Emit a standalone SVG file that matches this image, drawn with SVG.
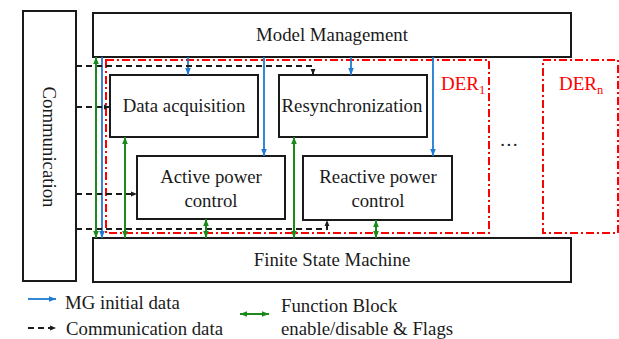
<svg xmlns="http://www.w3.org/2000/svg" width="619" height="339" viewBox="0 0 619 339">
  <style>
    .box { fill: #ffffff; stroke: #1a1a1a; stroke-width: 2; }
    text { font-family: 'Liberation Serif', 'Times New Roman', Times, serif; }
    .lbl { font-size: 18.8px; fill: #1a1a1a; text-anchor: middle; }
    .leg { font-size: 18.8px; fill: #1a1a1a; }
    .der { fill: none; stroke: #ff0000; stroke-width: 2; stroke-dasharray: 8 3 2 3; }
    .derlbl { font-size: 19px; fill: #ff0000; }
    .blue { stroke: #1f7bd1; stroke-width: 1.8; fill: none; marker-end: url(#ah-blue); }
    .green { stroke: #1a8a1a; stroke-width: 2; fill: none; marker-start: url(#ah-green); marker-end: url(#ah-green); }
    .comm { stroke: #1a1a1a; stroke-width: 2; fill: none; stroke-dasharray: 6 4; marker-end: url(#ah-black); }
  </style>
  <defs>
    <marker id="ah-blue" viewBox="0 0 10 10" refX="10" refY="5" markerUnits="userSpaceOnUse" markerWidth="7" markerHeight="7" orient="auto-start-reverse">
      <path d="M0,1 L10,5 L0,9 z" fill="#1f7bd1"/>
    </marker>
    <marker id="ah-green" viewBox="0 0 10 10" refX="10" refY="5" markerUnits="userSpaceOnUse" markerWidth="7" markerHeight="7" orient="auto-start-reverse">
      <path d="M0,1 L10,5 L0,9 z" fill="#1a8a1a"/>
    </marker>
    <marker id="ah-black" viewBox="0 0 10 10" refX="10" refY="5" markerUnits="userSpaceOnUse" markerWidth="6" markerHeight="6" orient="auto-start-reverse">
      <path d="M0,1 L10,5 L0,9 z" fill="#1a1a1a"/>
    </marker>
  </defs>

  <!-- DER containers -->
  <g id="der1">
    <rect class="der" x="106" y="60" width="383" height="173"/>
    <text class="derlbl" x="441" y="90">DER<tspan font-size="12.5" dy="4">1</tspan></text>
  </g>
  <g id="dern">
    <rect class="der" x="543" y="60" width="75" height="173"/>
    <text class="derlbl" x="559" y="90">DER<tspan font-size="12.5" dy="4">n</tspan></text>
  </g>
  <text class="lbl" x="509" y="146">…</text>

  <!-- Blocks -->
  <g id="communication">
    <rect class="box" x="23" y="11" width="53" height="270"/>
    <text class="lbl" transform="translate(43,147) rotate(90)" x="0" y="0">Communication</text>
  </g>
  <g id="model-management">
    <rect class="box" x="93" y="13" width="478" height="44"/>
    <text class="lbl" x="332" y="41">Model Management</text>
  </g>
  <g id="fsm">
    <rect class="box" x="93" y="238" width="478" height="44"/>
    <text class="lbl" x="332" y="266">Finite State Machine</text>
  </g>
  <g id="data-acquisition">
    <rect class="box" x="110" y="75" width="148" height="62"/>
    <text class="lbl" x="184" y="112">Data acquisition</text>
  </g>
  <g id="resynchronization">
    <rect class="box" x="279" y="75" width="148" height="62"/>
    <text class="lbl" x="352" y="112">Resynchronization</text>
  </g>
  <g id="active-power">
    <rect class="box" x="137" y="156" width="148" height="63"/>
    <text class="lbl" x="211" y="183">Active power</text>
    <text class="lbl" x="211" y="207">control</text>
  </g>
  <g id="reactive-power">
    <rect class="box" x="303" y="156" width="149" height="64"/>
    <text class="lbl" x="378" y="183">Reactive power</text>
    <text class="lbl" x="378" y="207">control</text>
  </g>

  <!-- Connectors -->
  <g id="connectors">
    <!-- MG initial data -->
    <line class="blue" x1="102" y1="57" x2="102" y2="238"/>
    <line class="blue" x1="188" y1="57" x2="188" y2="75"/>
    <line class="blue" x1="264" y1="57" x2="264" y2="156"/>
    <line class="blue" x1="351" y1="57" x2="351" y2="75"/>
    <line class="blue" x1="433" y1="57" x2="433" y2="156"/>
    <!-- Communication data -->
    <path class="comm" d="M76,66 H313 V75"/>
    <line class="comm" x1="76" y1="107" x2="110" y2="107"/>
    <line class="comm" x1="76" y1="194" x2="137" y2="194"/>
    <path class="comm" d="M76,229 H327 V220"/>
    <!-- Function block enable/disable & flags -->
    <line class="green" x1="96" y1="57" x2="96" y2="238"/>
    <line class="green" x1="125" y1="137" x2="125" y2="238"/>
    <line class="green" x1="206" y1="219" x2="206" y2="238"/>
    <line class="green" x1="294" y1="137" x2="294" y2="238"/>
    <line class="green" x1="376" y1="220" x2="376" y2="238"/>
  </g>

  <!-- Legend -->
  <g id="legend">
    <line class="blue" x1="28" y1="299" x2="56" y2="299"/>
    <text class="leg" x="65" y="309">MG initial data</text>
    <line class="comm" x1="28" y1="328" x2="56" y2="328" stroke-dasharray="5 3"/>
    <text class="leg" x="66" y="335">Communication data</text>
    <line class="green" x1="240" y1="314" x2="269" y2="314"/>
    <text class="leg" x="281" y="312">Function Block</text>
    <text class="leg" x="281" y="335">enable/disable &amp; Flags</text>
  </g>
</svg>
